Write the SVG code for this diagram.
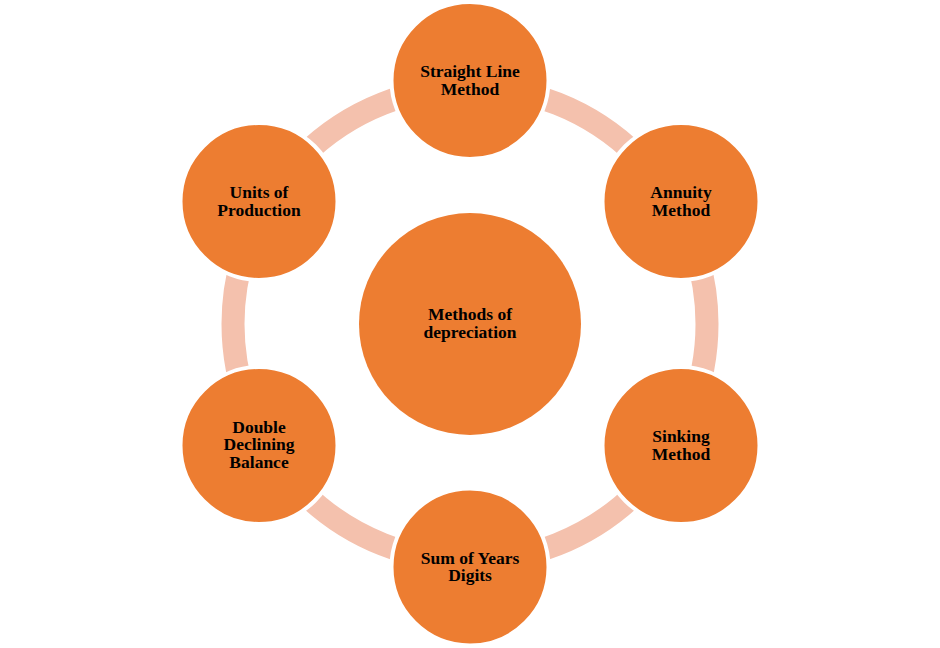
<svg xmlns="http://www.w3.org/2000/svg" width="940" height="648" viewBox="0 0 940 648">
<style>
.ring{fill:none;stroke:#F4C1AD;stroke-width:23}
.node{fill:#ED7D31;stroke:#FFFFFF;stroke-width:4}
.hub{fill:#ED7D31}
.t{font-family:"Liberation Serif","Times New Roman",serif;font-weight:bold;font-size:17.5px;fill:#000000;text-anchor:middle}
</style>
<rect width="940" height="648" fill="#FFFFFF"/>
<g id="connectors">
<circle class="ring" cx="470" cy="324" r="237"/>
</g>
<g id="hub">
<circle class="hub" cx="470" cy="324" r="111"/>
<text class="t" x="470" y="320">Methods of</text>
<text class="t" x="470" y="337.5">depreciation</text>
</g>
<g id="straight-line">
<circle class="node" cx="470" cy="80.5" r="78.5"/>
<text class="t" x="470" y="77.3">Straight Line</text>
<text class="t" x="470" y="94.6">Method</text>
</g>
<g id="annuity">
<circle class="node" cx="681" cy="201.5" r="78.5"/>
<text class="t" x="681" y="198.3">Annuity</text>
<text class="t" x="681" y="215.6">Method</text>
</g>
<g id="sinking">
<circle class="node" cx="681" cy="445.5" r="78.5"/>
<text class="t" x="681" y="442.3">Sinking</text>
<text class="t" x="681" y="459.6">Method</text>
</g>
<g id="sum-of-years">
<circle class="node" cx="470" cy="567" r="78.5"/>
<text class="t" x="470" y="563.8">Sum of Years</text>
<text class="t" x="470" y="581.1">Digits</text>
</g>
<g id="double-declining">
<circle class="node" cx="259" cy="445.5" r="78.5"/>
<text class="t" x="259" y="432.6">Double</text>
<text class="t" x="259" y="450.1">Declining</text>
<text class="t" x="259" y="467.6">Balance</text>
</g>
<g id="units-of-production">
<circle class="node" cx="259" cy="201.5" r="78.5"/>
<text class="t" x="259" y="198.3">Units of</text>
<text class="t" x="259" y="215.6">Production</text>
</g>
</svg>
